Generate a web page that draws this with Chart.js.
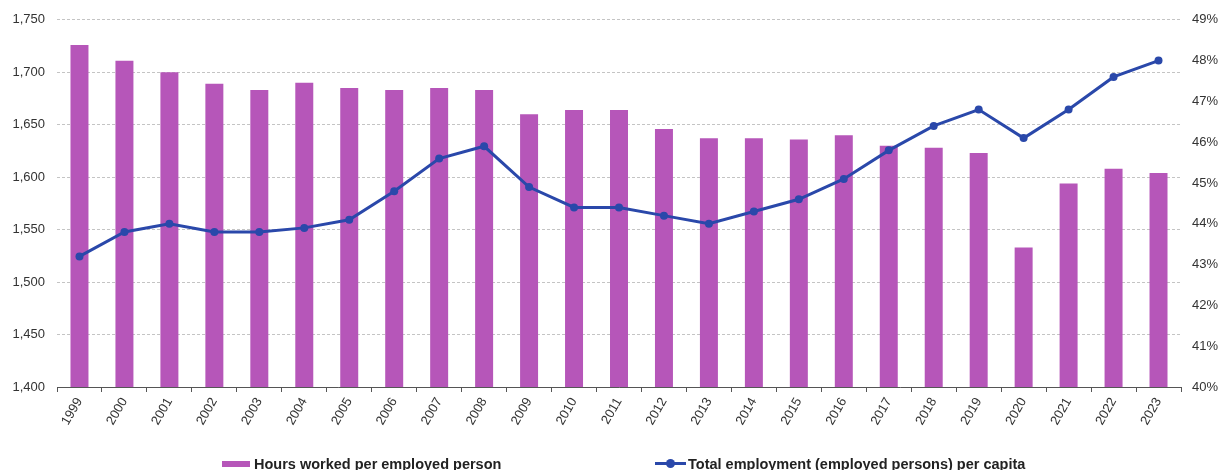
<!DOCTYPE html>
<html>
<head>
<meta charset="utf-8">
<script src="https://cdn.jsdelivr.net/npm/chart.js@4.4.1/dist/chart.umd.min.js"></script>
<style>
  html, body { margin: 0; padding: 0; background: #fff; overflow: hidden; }
  #wrap { position: relative; width: 1223px; height: 470px; }
  #wrap canvas { position: absolute; left: 0; top: 0; }
  .lg-text { position: absolute; top: 456px; line-height: 16px; white-space: nowrap;
             font: bold 14.5px "Liberation Sans", Arial, sans-serif; color: #222; }
  .lg-box { position: absolute; left: 222px; top: 461px; width: 28px; height: 6px; background: #b656b9; }
  .lg-line { position: absolute; left: 655px; top: 462px; width: 31px; height: 3px; background: #2a48aa; }
  .lg-dot { position: absolute; left: 666px; top: 459px; width: 9px; height: 9px; border-radius: 50%; background: #2a48aa; }
</style>
</head>
<body>
<div id="wrap">
  <canvas id="chart" width="1223" height="470"></canvas>
  <div class="lg-box"></div>
  <div class="lg-text" style="left:254px">Hours worked per employed person</div>
  <div class="lg-line"></div>
  <div class="lg-dot"></div>
  <div class="lg-text" style="left:688px">Total employment (employed persons) per capita</div>
</div>
<script>
const years = ["1999", "2000", "2001", "2002", "2003", "2004", "2005", "2006", "2007", "2008",
  "2009", "2010", "2011", "2012", "2013", "2014", "2015", "2016", "2017", "2018",
  "2019", "2020", "2021", "2022", "2023"];

// hours worked per employed person (left axis)
const hoursWorked = [1726, 1711, 1700, 1689, 1683, 1690, 1685, 1683, 1685, 1683,
  1660, 1664, 1664, 1646, 1637, 1637, 1636, 1640, 1630, 1628,
  1623, 1533, 1594, 1608, 1604];

// employed persons per capita, % (right axis)
const employmentRate = [43.2, 43.8, 44.0, 43.8, 43.8, 43.9, 44.1, 44.8, 45.6, 45.9,
  44.9, 44.4, 44.4, 44.2, 44.0, 44.3, 44.6, 45.1, 45.8, 46.4,
  46.8, 46.1, 46.8, 47.6, 48.0];

const hoursTicks = { min: 1400, max: 1750, step: 50 };
const rateTicks = { min: 40, max: 49, step: 1 };

const tickFont = { family: "'Liberation Sans', Arial, sans-serif", size: 13 };
const tickColor = "#333";

new Chart(document.getElementById("chart"), {
  type: "bar",
  data: {
    labels: years,
    datasets: [
      {
        type: "line",
        label: "Total employment (employed persons) per capita",
        data: employmentRate,
        yAxisID: "yRate",
        borderColor: "#2a48aa",
        backgroundColor: "#2a48aa",
        borderWidth: 3,
        pointRadius: 4,
        pointBackgroundColor: "#2a48aa",
        pointBorderWidth: 0,
        tension: 0,
        order: 0,
      },
      {
        label: "Hours worked per employed person",
        data: hoursWorked,
        yAxisID: "yHours",
        backgroundColor: "#b656b9",
        barPercentage: 0.4,
        categoryPercentage: 1,
        order: 1,
      },
    ],
  },
  options: {
    responsive: false,
    animation: false,
    layout: { padding: { top: 19, left: 0, right: 0, bottom: 0 } },
    plugins: {
      legend: { display: false },
      tooltip: { enabled: false },
    },
    scales: {
      x: {
        grid: {
          offset: true,
          drawOnChartArea: false,
          drawTicks: true,
          tickLength: 5,
          color: "#555",
        },
        border: { display: true, color: "#555", width: 1 },
        ticks: {
          autoSkip: false,
          maxRotation: 60,
          minRotation: 60,
          padding: 3,
          font: tickFont,
          color: tickColor,
        },
        afterFit: (scale) => { scale.height = 83; },
      },
      yHours: {
        position: "left",
        min: hoursTicks.min,
        max: hoursTicks.max,
        grid: { color: "#c4c4c4", drawTicks: false, lineWidth: 1 },
        border: { display: false, dash: [3, 2] },
        ticks: {
          stepSize: hoursTicks.step,
          padding: 12,
          font: tickFont,
          color: tickColor,
          callback: (v) => v.toLocaleString("en-US"),
        },
        afterFit: (scale) => { scale.width = 57; },
      },
      yRate: {
        position: "right",
        min: rateTicks.min,
        max: rateTicks.max,
        grid: { display: false, drawTicks: false },
        border: { display: false },
        ticks: {
          stepSize: rateTicks.step,
          padding: 11,
          font: tickFont,
          color: tickColor,
          callback: (v) => v + "%",
        },
        afterFit: (scale) => { scale.width = 42; },
      },
    },
  },
});
</script>
</body>
</html>
